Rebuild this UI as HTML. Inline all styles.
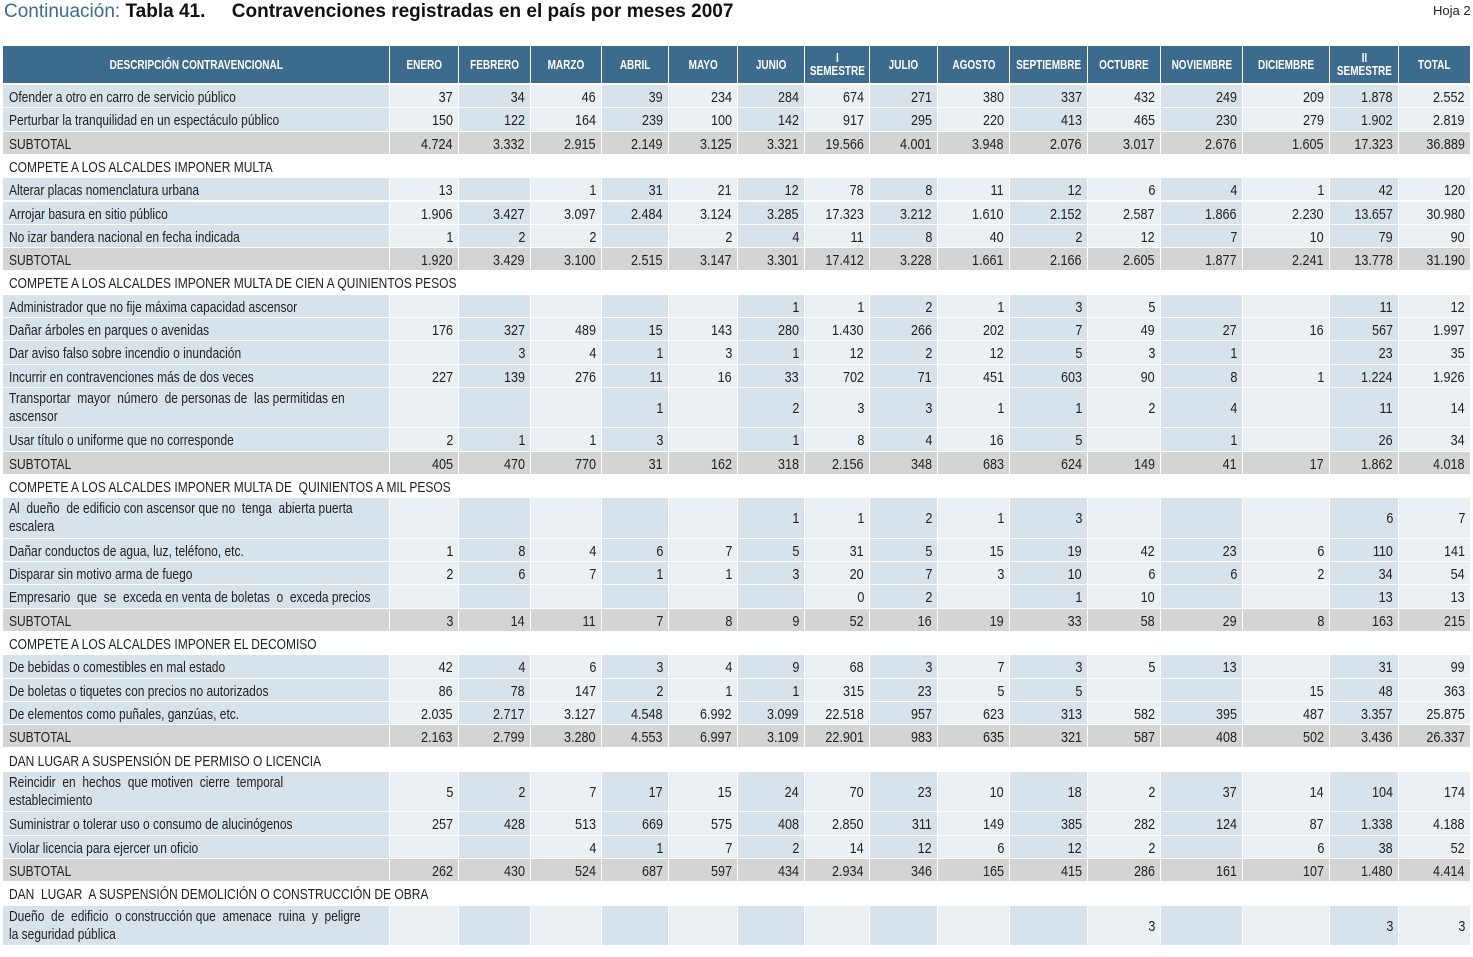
<!DOCTYPE html>
<html><head><meta charset="utf-8">
<style>
html,body{margin:0;padding:0;background:#fff;width:1473px;height:957px;overflow:hidden;position:relative;
font-family:"Liberation Sans Narrow","Liberation Sans",sans-serif;color:#222;}
.c{position:absolute;box-sizing:border-box;font-size:15px;line-height:24px;white-space:nowrap;overflow:hidden}
.c span{display:inline-block}
.n{text-align:right;padding-right:5px}
.n span{transform:scaleX(.84);transform-origin:right center}
.d{padding-left:6px}
.d span{transform:scaleX(.8);transform-origin:left center}
.h{background:#3c6b8d;color:#fff;font-weight:bold;font-size:12.5px;text-align:center;display:flex;align-items:center;justify-content:center;line-height:13px;white-space:normal;padding-top:1px}
.h span{transform:scaleX(.8);transform-origin:center center;white-space:nowrap}
#title{position:absolute;left:4px;top:1px;font-family:"Liberation Sans",sans-serif;font-size:19px;font-weight:bold;color:#111;white-space:nowrap}
#title .b{color:#3c6b8d;font-weight:normal}
#hoja{position:absolute;left:1433px;top:3px;font-size:13px;color:#222}
</style></head><body>
<div id="title"><span class="b">Continuación:</span> Tabla 41.&nbsp;&nbsp;&nbsp;&nbsp; Contravenciones registradas en el país por meses 2007</div>
<div id="hoja">Hoja 2</div>
<div id="tbl"></div>
<script>
const headers=["DESCRIPCIÓN CONTRAVENCIONAL","ENERO","FEBRERO","MARZO","ABRIL","MAYO","JUNIO","I<br>SEMESTRE","JULIO","AGOSTO","SEPTIEMBRE","OCTUBRE","NOVIEMBRE","DICIEMBRE","II<br>SEMESTRE","TOTAL"];
const edges=[3,390,459,531,602,669,738,805,870,938,1010,1088,1161,1243,1330,1399,1471];
const rows=[
["Ofender a otro en carro de servicio público","r",["37","34","46","39","234","284","674","271","380","337","432","249","209","1.878","2.552"]],
["Perturbar la tranquilidad en un espectáculo público","r",["150","122","164","239","100","142","917","295","220","413","465","230","279","1.902","2.819"]],
["SUBTOTAL","s",["4.724","3.332","2.915","2.149","3.125","3.321","19.566","4.001","3.948","2.076","3.017","2.676","1.605","17.323","36.889"]],
["COMPETE A LOS ALCALDES IMPONER MULTA","h",[]],
["Alterar placas nomenclatura urbana","r",["13","","1","31","21","12","78","8","11","12","6","4","1","42","120"]],
["Arrojar basura en sitio público","r",["1.906","3.427","3.097","2.484","3.124","3.285","17.323","3.212","1.610","2.152","2.587","1.866","2.230","13.657","30.980"]],
["No izar bandera nacional en fecha indicada","r",["1","2","2","","2","4","11","8","40","2","12","7","10","79","90"]],
["SUBTOTAL","s",["1.920","3.429","3.100","2.515","3.147","3.301","17.412","3.228","1.661","2.166","2.605","1.877","2.241","13.778","31.190"]],
["COMPETE A LOS ALCALDES IMPONER MULTA DE CIEN A QUINIENTOS PESOS","h",[]],
["Administrador que no fije máxima capacidad ascensor","r",["","","","","","1","1","2","1","3","5","","","11","12"]],
["Dañar árboles en parques o avenidas","r",["176","327","489","15","143","280","1.430","266","202","7","49","27","16","567","1.997"]],
["Dar aviso falso sobre incendio o inundación","r",["","3","4","1","3","1","12","2","12","5","3","1","","23","35"]],
["Incurrir en contravenciones más de dos veces","r",["227","139","276","11","16","33","702","71","451","603","90","8","1","1.224","1.926"]],
["Transportar&nbsp; mayor&nbsp; número&nbsp; de personas de&nbsp; las permitidas en<br>ascensor","r2",["","","","1","","2","3","3","1","1","2","4","","11","14"]],
["Usar título o uniforme que no corresponde","r",["2","1","1","3","","1","8","4","16","5","","1","","26","34"]],
["SUBTOTAL","s",["405","470","770","31","162","318","2.156","348","683","624","149","41","17","1.862","4.018"]],
["COMPETE A LOS ALCALDES IMPONER MULTA DE&nbsp; QUINIENTOS A MIL PESOS","h",[]],
["Al&nbsp; dueño&nbsp; de edificio con ascensor que no&nbsp; tenga&nbsp; abierta puerta<br>escalera","r2",["","","","","","1","1","2","1","3","","","","6","7"]],
["Dañar conductos de agua, luz, teléfono, etc.","r",["1","8","4","6","7","5","31","5","15","19","42","23","6","110","141"]],
["Disparar sin motivo arma de fuego","r",["2","6","7","1","1","3","20","7","3","10","6","6","2","34","54"]],
["Empresario&nbsp; que&nbsp; se&nbsp; exceda en venta de boletas&nbsp; o&nbsp; exceda precios","r",["","","","","","","0","2","","1","10","","","13","13"]],
["SUBTOTAL","s",["3","14","11","7","8","9","52","16","19","33","58","29","8","163","215"]],
["COMPETE A LOS ALCALDES IMPONER EL DECOMISO","h",[]],
["De bebidas o comestibles en mal estado","r",["42","4","6","3","4","9","68","3","7","3","5","13","","31","99"]],
["De boletas o tiquetes con precios no autorizados","r",["86","78","147","2","1","1","315","23","5","5","","","15","48","363"]],
["De elementos como puñales, ganzúas, etc.","r",["2.035","2.717","3.127","4.548","6.992","3.099","22.518","957","623","313","582","395","487","3.357","25.875"]],
["SUBTOTAL","s",["2.163","2.799","3.280","4.553","6.997","3.109","22.901","983","635","321","587","408","502","3.436","26.337"]],
["DAN LUGAR A SUSPENSIÓN DE PERMISO O LICENCIA","h",[]],
["Reincidir&nbsp; en&nbsp; hechos&nbsp; que motiven&nbsp; cierre&nbsp; temporal<br>establecimiento","r2",["5","2","7","17","15","24","70","23","10","18","2","37","14","104","174"]],
["Suministrar o tolerar uso o consumo de alucinógenos","r",["257","428","513","669","575","408","2.850","311","149","385","282","124","87","1.338","4.188"]],
["Violar licencia para ejercer un oficio","r",["","","4","1","7","2","14","12","6","12","2","","6","38","52"]],
["SUBTOTAL","s",["262","430","524","687","597","434","2.934","346","165","415","286","161","107","1.480","4.414"]],
["DAN&nbsp; LUGAR&nbsp; A SUSPENSIÓN DEMOLICIÓN O CONSTRUCCIÓN DE OBRA","h",[]],
["Dueño&nbsp; de&nbsp; edificio&nbsp; o construcción que&nbsp; amenace&nbsp; ruina&nbsp; y&nbsp; peligre<br>la seguridad pública","r2",["","","","","","","","","","","3","","","3","3"]]
];
const tbl=document.getElementById('tbl');
function mk(x,y,w,h,cls,html){const d=document.createElement('div');d.className='c '+cls;
d.style.left=x+'px';d.style.top=y+'px';d.style.width=w+'px';d.style.height=h+'px';d.innerHTML='<span>'+html+'</span>';tbl.appendChild(d);return d;}
for(let i=0;i<headers.length;i++){
 const d=mk(edges[i],46,edges[i+1]-edges[i]-1,37,'h',headers[i]);
 
 
}
let y=85;
for(const r of rows){
 const h=r[1]==='r2'?40.5:23.3;
 if(r[1]==='h'){
  const d=mk(edges[0],y,1400,h,'d',r[0]);
  d.style.paddingTop='1px';
  
  
 } else {
  for(let i=0;i<16;i++){
   let bg=r[1]==='s'?'#d4d4d4':(i%2===0?'#d8e2ea':'#ebf0f4');
   const two=r[1]==='r2';
   const d=mk(edges[i],y,edges[i+1]-edges[i]-1,h-1,i?'n':'d',i?r[2][i-1]:r[0]);
   d.style.background=bg;
   d.style.paddingTop='1px';
   if(two){
    if(i){d.style.lineHeight=(h-1)+'px';}
    else{d.style.lineHeight='18px';d.style.paddingTop='2px';}
   }
   
   
  }
 }
 y+=h;
}
</script>
</body></html>
